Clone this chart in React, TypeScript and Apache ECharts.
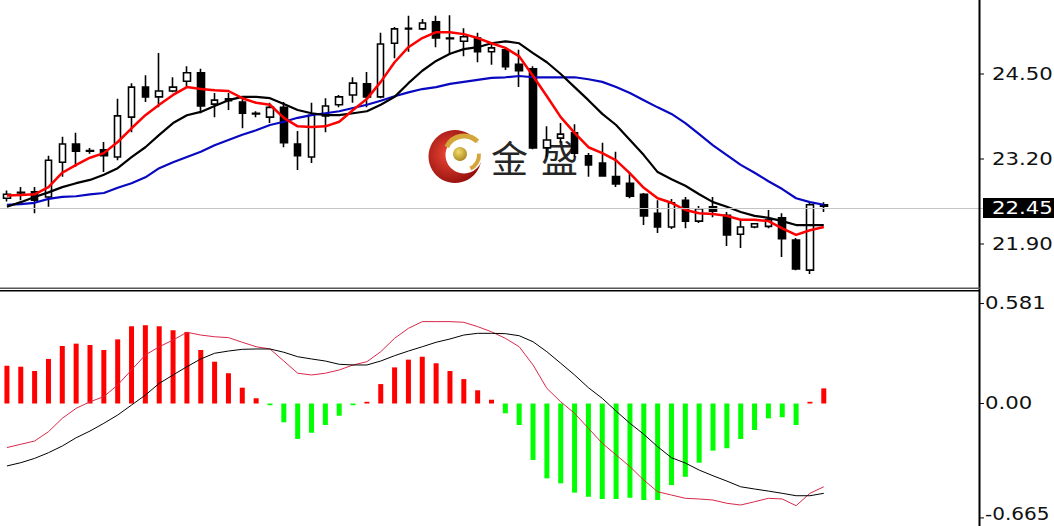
import { useEffect, useRef } from "react";
import * as echarts from "echarts";

// ---------- data ----------
const categoryCount = 71;
const categories = Array.from({ length: categoryCount }, (_, i) => String(i + 1));

// [open, close, low, high]
const candles = [
  [22.6, 22.66, 22.55, 22.72],
  [22.68, 22.69, 22.57, 22.77],
  [22.7, 22.57, 22.37, 22.77],
  [22.62, 23.18, 22.47, 23.25],
  [23.15, 23.43, 22.93, 23.54],
  [23.43, 23.32, 23.08, 23.6],
  [23.32, 23.33, 23.28, 23.37],
  [23.34, 23.25, 23.0, 23.46],
  [23.23, 23.86, 23.18, 24.12],
  [23.84, 24.3, 23.61, 24.36],
  [24.3, 24.15, 24.07, 24.48],
  [24.15, 24.24, 23.99, 24.82],
  [24.24, 24.3, 24.22, 24.45],
  [24.39, 24.52, 24.3, 24.62],
  [24.52, 24.01, 23.9, 24.58],
  [24.04, 24.1, 23.84, 24.21],
  [24.12, 24.09, 23.95, 24.21],
  [24.07, 23.9, 23.67, 24.13],
  [23.89, 23.9, 23.84, 23.93],
  [23.84, 23.99, 23.75, 24.06],
  [23.99, 23.45, 23.38, 24.07],
  [23.43, 23.25, 23.03, 23.63],
  [23.23, 23.87, 23.14, 24.06],
  [23.86, 24.01, 23.61, 24.13],
  [24.03, 24.15, 23.99, 24.18],
  [24.18, 24.36, 24.06, 24.45],
  [24.35, 24.15, 23.99, 24.53],
  [24.15, 24.96, 24.13, 25.13],
  [24.97, 25.19, 24.74, 25.22],
  [25.19, 25.2, 24.84, 25.39],
  [25.19, 25.28, 25.17, 25.34],
  [25.3, 25.05, 24.91, 25.39],
  [25.04, 25.05, 24.79, 25.4],
  [25.0, 25.07, 24.77, 25.2],
  [25.05, 24.84, 24.68, 25.13],
  [24.84, 24.9, 24.64, 24.97],
  [24.87, 24.61, 24.56, 24.91],
  [24.65, 24.55, 24.3, 24.87],
  [24.58, 23.37, 23.35, 24.62],
  [23.37, 23.49, 23.23, 23.7],
  [23.52, 23.58, 23.45, 23.75],
  [23.6, 23.29, 23.23, 23.73],
  [23.25, 23.11, 22.93, 23.29],
  [23.14, 22.94, 22.93, 23.45],
  [22.93, 22.82, 22.77, 23.31],
  [22.83, 22.63, 22.6, 23.0],
  [22.66, 22.33, 22.19, 22.68],
  [22.37, 22.16, 22.07, 22.57],
  [22.16, 22.53, 22.13, 22.59],
  [22.57, 22.25, 22.14, 22.62],
  [22.25, 22.44, 22.22, 22.48],
  [22.47, 22.4, 22.31, 22.62],
  [22.34, 22.04, 21.87, 22.39],
  [22.05, 22.16, 21.84, 22.27],
  [22.16, 22.21, 22.14, 22.22],
  [22.17, 22.27, 22.14, 22.42],
  [22.3, 21.98, 21.7, 22.37],
  [21.96, 21.52, 21.5, 21.99],
  [21.5, 22.5, 21.44, 22.54],
  [22.5, 22.48, 22.39, 22.54],
];

const maFast = [
  22.64, 22.65, 22.66, 22.77, 22.99, 23.11, 23.22, 23.29, 23.46, 23.67,
  23.87, 24.03, 24.18, 24.3, 24.27, 24.25, 24.24, 24.13, 24.06, 24.03,
  23.83, 23.7, 23.69, 23.7, 23.77, 23.95, 24.12, 24.38, 24.68, 24.91,
  25.05, 25.14, 25.14, 25.11, 25.05, 24.97, 24.9, 24.77, 24.47, 24.16,
  23.84, 23.6, 23.38, 23.29, 23.18, 22.98, 22.76, 22.6, 22.53, 22.42,
  22.37, 22.36, 22.33, 22.27, 22.27, 22.25, 22.14, 22.04, 22.11, 22.16,
];

const maMid = [
  22.47, 22.54, 22.62, 22.69, 22.77, 22.83, 22.88, 22.96, 23.06, 23.23,
  23.38, 23.57, 23.75, 23.87, 23.92, 24.01, 24.1, 24.15, 24.15, 24.13,
  24.04, 23.95, 23.9, 23.87, 23.87, 23.9, 23.93, 24.03, 24.15, 24.36,
  24.55, 24.7, 24.81, 24.88, 24.91, 24.97, 25.0, 24.97, 24.82, 24.68,
  24.5, 24.3, 24.1, 23.89, 23.72, 23.49, 23.26, 23.0, 22.89, 22.79,
  22.66, 22.54, 22.47, 22.39, 22.33, 22.3, 22.25, 22.19, 22.19, 22.19,
];

const maSlow = [
  22.5, 22.51, 22.53, 22.59, 22.62, 22.63, 22.66, 22.68, 22.76, 22.83,
  22.92, 23.06, 23.15, 23.23, 23.31, 23.41, 23.49, 23.57, 23.64, 23.72,
  23.77, 23.83, 23.87, 23.9, 23.93, 23.98, 24.03, 24.09, 24.16, 24.22,
  24.27, 24.3, 24.35, 24.38, 24.41, 24.44, 24.45, 24.47, 24.45, 24.45,
  24.45, 24.45, 24.42, 24.38, 24.3, 24.21, 24.1, 23.99, 23.89, 23.75,
  23.58, 23.41, 23.26, 23.11, 22.99, 22.86, 22.74, 22.6, 22.54, 22.5,
];

const lastPrice = 22.45;
const priceTicks = [24.5, 23.2, 21.9];

const macdHist = [
  0.22, 0.214, 0.189, 0.259, 0.334, 0.348, 0.34, 0.311, 0.373, 0.449,
  0.455, 0.449, 0.426, 0.416, 0.311, 0.243, 0.176, 0.092, 0.03, -0.01,
  -0.109, -0.206, -0.17, -0.125, -0.071, -0.01, 0.01, 0.113, 0.21, 0.255,
  0.272, 0.234, 0.189, 0.142, 0.077, 0.022, -0.057, -0.125, -0.328, -0.435,
  -0.464, -0.518, -0.542, -0.555, -0.555, -0.548, -0.561, -0.561, -0.474, -0.426,
  -0.344, -0.274, -0.26, -0.206, -0.154, -0.086, -0.08, -0.125, 0.01, 0.088,
];

const macdSignal = [
  -0.256, -0.237, -0.218, -0.164, -0.086, -0.028, 0.01, 0.04, 0.108, 0.195,
  0.282, 0.33, 0.369, 0.414, 0.398, 0.388, 0.383, 0.356, 0.33, 0.317,
  0.247, 0.176, 0.166, 0.176, 0.195, 0.224, 0.243, 0.301, 0.379, 0.437,
  0.476, 0.476, 0.476, 0.472, 0.447, 0.417, 0.379, 0.33, 0.224, 0.088,
  0.01, -0.057, -0.144, -0.231, -0.299, -0.367, -0.445, -0.513, -0.532, -0.551,
  -0.555, -0.561, -0.58, -0.59, -0.571, -0.551, -0.555, -0.594, -0.522, -0.484,
];

const macdLine = [
  -0.363, -0.344, -0.319, -0.286, -0.247, -0.199, -0.16, -0.115, -0.067, -0.009,
  0.049, 0.117, 0.166, 0.214, 0.259, 0.292, 0.305, 0.315, 0.317, 0.317,
  0.298, 0.272, 0.259, 0.247, 0.228, 0.224, 0.224, 0.247, 0.278, 0.305,
  0.33, 0.356, 0.375, 0.398, 0.408, 0.408, 0.406, 0.394, 0.359, 0.301,
  0.234, 0.166, 0.092, 0.03, -0.044, -0.115, -0.179, -0.251, -0.315, -0.346,
  -0.387, -0.42, -0.451, -0.484, -0.497, -0.509, -0.522, -0.536, -0.536, -0.522,
];

const macdTicks = [0.581, 0, -0.665];
const macdTickLabels = ["0.581", "0.00", "-0.665"];

// ---------- component ----------
export default function App() {
  const ref = useRef<HTMLDivElement>(null);

  useEffect(() => {
    const chart = echarts.init(ref.current as HTMLDivElement, null, { renderer: "svg" });
    const gridLeft = -11;
    const gridWidth = 994;

    chart.setOption({
      animation: false,
      backgroundColor: "#ffffff",
      grid: [
        { left: gridLeft, top: 0, width: gridWidth, height: 288 },
        { left: gridLeft, top: 291, width: gridWidth, height: 235 },
      ],
      xAxis: [
        { type: "category", data: categories, gridIndex: 0, show: false, boundaryGap: true },
        { type: "category", data: categories, gridIndex: 1, show: false, boundaryGap: true },
      ],
      yAxis: [
        { type: "value", gridIndex: 0, min: 21.227, max: 25.632, show: false },
        { type: "value", gridIndex: 1, min: -0.712, max: 0.654, show: false },
      ],
      series: [
        {
          type: "candlestick",
          xAxisIndex: 0,
          yAxisIndex: 0,
          data: candles,
          barWidth: 7,
          z: 2,
          itemStyle: {
            color: "#ffffff",
            color0: "#000000",
            borderColor: "#000000",
            borderColor0: "#000000",
            borderColorDoji: "#000000",
            borderWidth: 1.6,
          },
          markLine: {
            symbol: ["none", "none"],
            silent: true,
            label: { show: false },
            lineStyle: { color: "#c4c4c4", width: 1, type: "solid" },
            data: [{ yAxis: lastPrice }],
          },
        },
        {
          type: "line",
          xAxisIndex: 0,
          yAxisIndex: 0,
          data: maSlow,
          symbol: "none",
          z: 3,
          lineStyle: { color: "#0808c0", width: 2.2 },
        },
        {
          type: "line",
          xAxisIndex: 0,
          yAxisIndex: 0,
          data: maMid,
          symbol: "none",
          z: 3,
          lineStyle: { color: "#000000", width: 2.2 },
        },
        {
          type: "line",
          xAxisIndex: 0,
          yAxisIndex: 0,
          data: maFast,
          symbol: "none",
          z: 4,
          lineStyle: { color: "#ff0000", width: 2.5 },
        },
        {
          type: "bar",
          xAxisIndex: 1,
          yAxisIndex: 1,
          barWidth: 5,
          data: macdHist.map((v) => ({
            value: v,
            itemStyle: { color: v >= 0 ? "#ff0000" : "#00ff00" },
          })),
        },
        {
          type: "line",
          xAxisIndex: 1,
          yAxisIndex: 1,
          data: macdSignal,
          symbol: "none",
          z: 3,
          lineStyle: { color: "#d8284a", width: 1 },
        },
        {
          type: "line",
          xAxisIndex: 1,
          yAxisIndex: 1,
          data: macdLine,
          symbol: "none",
          z: 3,
          lineStyle: { color: "#000000", width: 1 },
        },
      ],
    });

    const labelFont = { fontSize: 17, fontFamily: "DejaVu Sans" };
    const elements: any[] = [];

    // watermark logo
    elements.push(
      {
        type: "circle",
        z: 0,
        shape: { cx: 455, cy: 156.5, r: 26.5 },
        style: {
          fill: new echarts.graphic.RadialGradient(0.4, 0.45, 0.65, [
            { offset: 0, color: "#f04a36" },
            { offset: 1, color: "#8c0b0b" },
          ]),
        },
      },
      { type: "circle", z: 0, shape: { cx: 464, cy: 155, r: 18.5 }, style: { fill: "#ffffff" } },
      {
        type: "arc",
        z: 0,
        shape: { cx: 464, cy: 155, r: 19, startAngle: (-155 * Math.PI) / 180, endAngle: (-45 * Math.PI) / 180 },
        style: { stroke: "#d4a63a", lineWidth: 5, fill: "none" },
      },
      {
        type: "arc",
        z: 0,
        shape: { cx: 464, cy: 155, r: 15, startAngle: (-5 * Math.PI) / 180, endAngle: (65 * Math.PI) / 180 },
        style: { stroke: "#d4a63a", lineWidth: 4, fill: "none" },
      },
      {
        type: "circle",
        z: 0,
        shape: { cx: 460, cy: 154, r: 7 },
        style: {
          fill: new echarts.graphic.RadialGradient(0.4, 0.35, 0.7, [
            { offset: 0, color: "#f3dc6a" },
            { offset: 1, color: "#a8861e" },
          ]),
        },
      },
      {
        type: "text",
        z: 0,
        x: 491,
        y: 157,
        style: { text: "金", fontSize: 37, fontFamily: "Noto Sans CJK SC", fill: "#262626", verticalAlign: "middle" },
      },
      {
        type: "text",
        z: 0,
        x: 541,
        y: 157,
        style: { text: "盛", fontSize: 37, fontFamily: "Noto Sans CJK SC", fill: "#262626", verticalAlign: "middle" },
      }
    );

    // frame
    elements.push(
      { type: "line", z: 100, shape: { x1: 979.5, y1: 0, x2: 979.5, y2: 526 }, style: { stroke: "#000", lineWidth: 2 } },
      { type: "line", z: 100, shape: { x1: 0, y1: 288.3, x2: 980, y2: 288.3 }, style: { stroke: "#555", lineWidth: 1.5 } },
      { type: "line", z: 100, shape: { x1: 0, y1: 290.7, x2: 980, y2: 290.7 }, style: { stroke: "#000", lineWidth: 1.5 } }
    );

    // price axis labels
    priceTicks.forEach((v) => {
      const y = chart.convertToPixel({ yAxisIndex: 0 }, v) as number;
      elements.push(
        { type: "line", z: 100, shape: { x1: 980, y1: y, x2: 984, y2: y }, style: { stroke: "#000", lineWidth: 1 } },
        {
          type: "text",
          z: 100,
          x: 992,
          y,
          scaleX: 1.25,
          style: { text: v.toFixed(2), ...labelFont, fill: "#111", verticalAlign: "middle", align: "left" },
        }
      );
    });

    // current price box
    const py = chart.convertToPixel({ yAxisIndex: 0 }, lastPrice) as number;
    elements.push(
      { type: "rect", z: 101, shape: { x: 983, y: py - 10, width: 71, height: 20 }, style: { fill: "#000" } },
      {
        type: "text",
        z: 102,
        x: 992,
        y: py,
        scaleX: 1.25,
        style: { text: lastPrice.toFixed(2), ...labelFont, fill: "#fff", verticalAlign: "middle", align: "left" },
      }
    );

    // macd axis labels (the lowest one is kept inside the page)
    macdTicks.forEach((v, i) => {
      const y = chart.convertToPixel({ yAxisIndex: 1 }, v) as number;
      const isLast = i === macdTicks.length - 1;
      const ty = isLast ? Math.min(y, 514) : y;
      elements.push(
        { type: "line", z: 100, shape: { x1: 980, y1: y, x2: 984, y2: y }, style: { stroke: "#000", lineWidth: 1 } },
        {
          type: "text",
          z: 100,
          x: 985,
          y: ty,
          scaleX: isLast ? 1.18 : 1.25,
          style: { text: macdTickLabels[i], ...labelFont, fill: "#111", verticalAlign: "middle", align: "left" },
        }
      );
    });

    chart.setOption({ graphic: { elements } });

    return () => chart.dispose();
  }, []);

  return (
    <div
      ref={ref}
      style={{ position: "fixed", left: 0, top: 0, width: 1054, height: 526, background: "#fff" }}
    />
  );
}
